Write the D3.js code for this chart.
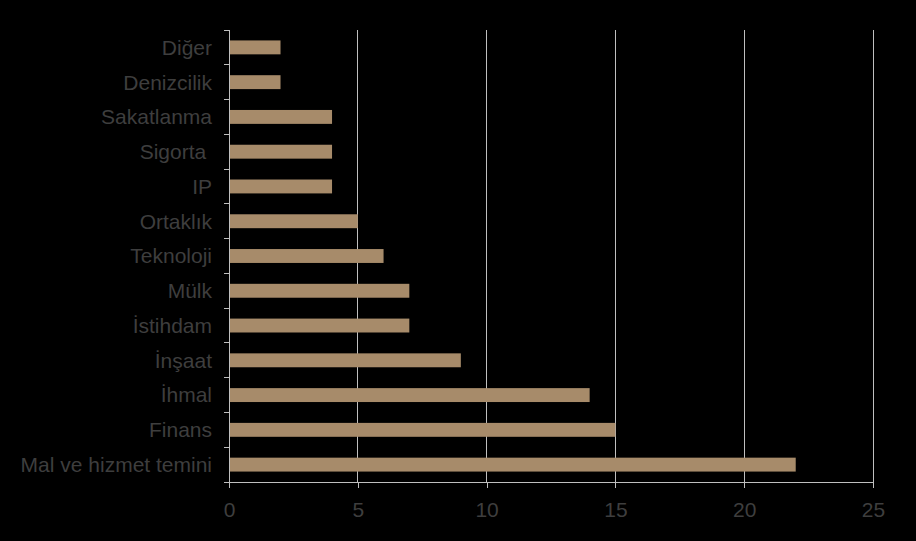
<!DOCTYPE html>
<html>
<head>
<meta charset="utf-8">
<script src="https://cdn.jsdelivr.net/npm/d3@7"></script>
<style>
  html, body { margin: 0; padding: 0; background: #000; }
  svg { display: block; }
  text { white-space: pre; }
</style>
</head>
<body>
<svg id="chart" width="916" height="541"></svg>
<script>
const categories = ["Diğer", "Denizcilik", "Sakatlanma", "Sigorta ", "IP", "Ortaklık", "Teknoloji", "Mülk", "İstihdam", "İnşaat", "İhmal", "Finans", "Mal ve hizmet temini"];
const values = [2, 2, 4, 4, 4, 5, 6, 7, 7, 9, 14, 15, 22];
const xTicks = [0, 5, 10, 15, 20, 25];

(function () {
const svg = d3.select("#chart");
const W = 916, H = 541;
svg.append("rect").attr("width", W).attr("height", H).attr("fill", "#000");

const pLeft = 229, pRight = 873, pTop = 30, pBottom = 482;
const x = d3.scaleLinear().domain([0, 25]).range([pLeft, pRight]);
const y = d3.scaleBand().domain(categories).range([pTop, pBottom]).paddingInner(0.6).paddingOuter(0.3);

const gridColor = "#bfbfbf";
const textColor = "#3e3e3e";
const font = "'Liberation Sans', Arial, sans-serif";
const fontSize = "21px";

// gridlines
svg.append("g").selectAll("line").data(xTicks.filter(d => d > 0)).join("line")
  .attr("x1", d => x(d)).attr("x2", d => x(d))
  .attr("y1", pTop).attr("y2", pBottom)
  .attr("stroke", gridColor).attr("stroke-width", 1).attr("shape-rendering", "crispEdges");

// bars
svg.append("g").selectAll("rect").data(categories).join("rect")
  .attr("x", x(0))
  .attr("y", d => y(d))
  .attr("width", (d, i) => x(values[i]) - x(0))
  .attr("height", y.bandwidth())
  .attr("fill", "#a78b6a");

// x axis
const xAxis = d3.axisBottom(x).tickValues(xTicks).tickSize(6).tickPadding(14).tickFormat(d3.format("d"));
const gx = svg.append("g").attr("transform", `translate(0,${pBottom})`).call(xAxis);
gx.select(".domain").attr("stroke", gridColor).attr("shape-rendering", "crispEdges");
gx.selectAll(".tick line").attr("stroke", gridColor).attr("shape-rendering", "crispEdges");
gx.selectAll("text").attr("fill", textColor).style("font-family", font).style("font-size", fontSize);

// y axis: ticks at band boundaries
const boundaries = d3.range(categories.length + 1).map(i => pTop + (pBottom - pTop) * i / categories.length);
const gy = svg.append("g");
gy.append("line").attr("x1", pLeft).attr("x2", pLeft).attr("y1", pTop).attr("y2", pBottom)
  .attr("stroke", gridColor).attr("shape-rendering", "crispEdges");
gy.selectAll("line.t").data(boundaries).join("line").attr("class", "t")
  .attr("x1", pLeft - 5).attr("x2", pLeft).attr("y1", d => d).attr("y2", d => d)
  .attr("stroke", gridColor).attr("shape-rendering", "crispEdges");
gy.selectAll("text").data(categories).join("text")
  .attr("x", pLeft - 17)
  .attr("y", d => y(d) + y.bandwidth() / 2)
  .attr("dy", "0.35em")
  .attr("text-anchor", "end")
  .attr("fill", textColor)
  .style("font-family", font).style("font-size", fontSize)
  .text(d => d);
})();
</script>
</body>
</html>
